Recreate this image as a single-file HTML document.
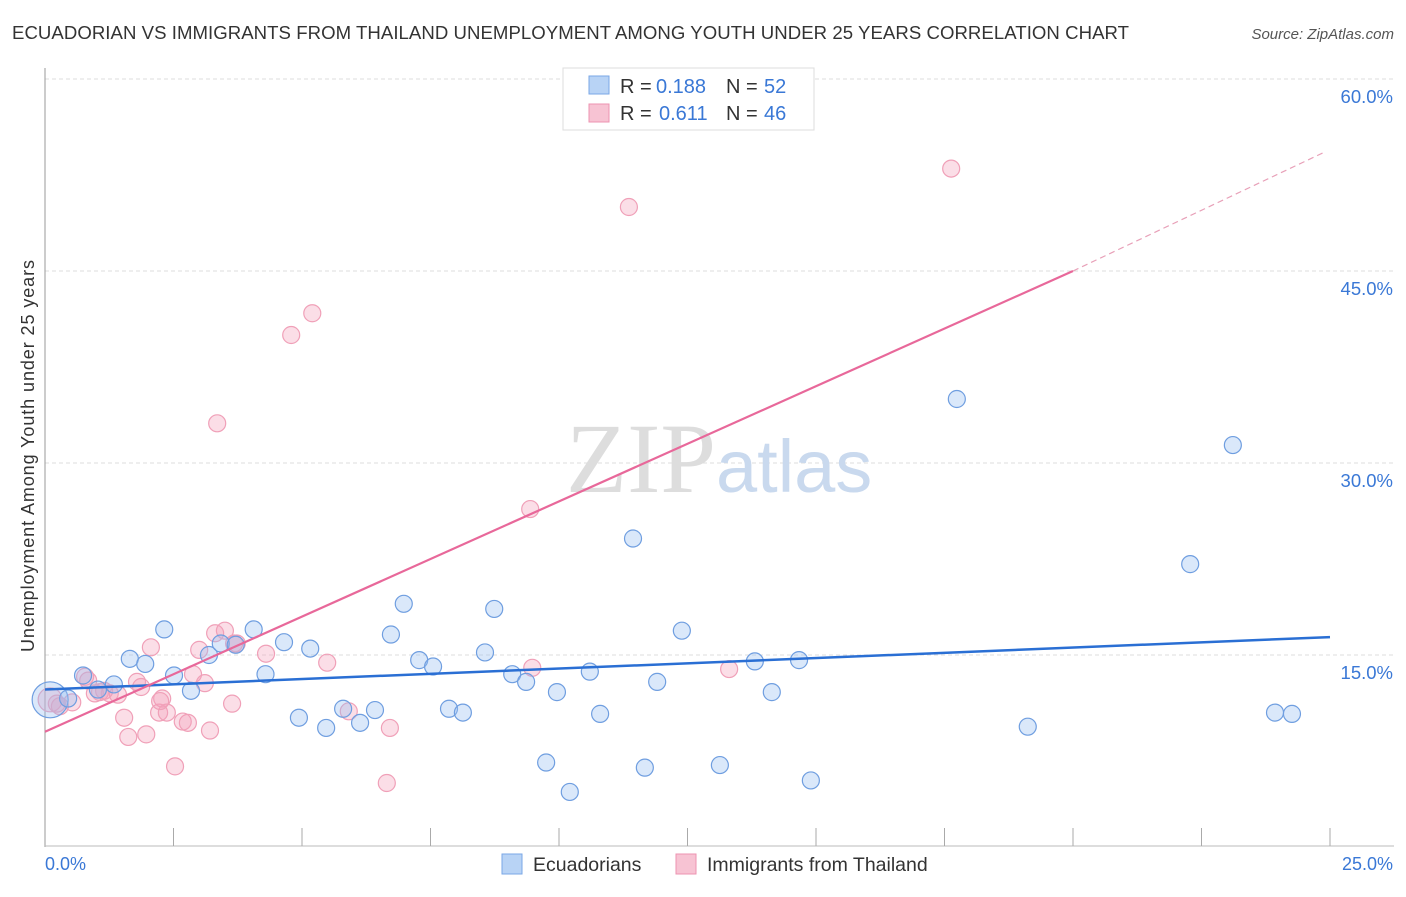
<!DOCTYPE html>
<html><head><meta charset="utf-8"><style>
body{margin:0;background:#fff;font-family:"Liberation Sans",sans-serif}
</style></head><body>
<svg width="1406" height="892" xmlns="http://www.w3.org/2000/svg">
<text x="12" y="39" font-size="18.6" fill="#333" textLength="1117">ECUADORIAN VS IMMIGRANTS FROM THAILAND UNEMPLOYMENT AMONG YOUTH UNDER 25 YEARS CORRELATION CHART</text>
<text x="1394" y="39" font-size="15" fill="#555" font-style="italic" text-anchor="end">Source: ZipAtlas.com</text>
<g id="grid"></g>
<text x="716" y="492" font-size="100" font-family="Liberation Serif,serif" fill="#ddd" text-anchor="end">ZIP</text>
<text x="716" y="492" font-size="74" fill="#c9d9ee">atlas</text>
<line x1="45" y1="68" x2="45" y2="847" stroke="#999"/>
<line x1="45" y1="846" x2="1394" y2="846" stroke="#bbb"/>
<g id="ticks"></g>
<g id="pts"></g>
<g id="lines"></g>
<text x="34" y="456" font-size="18" fill="#333" text-anchor="middle" textLength="392" transform="rotate(-90 34 456)">Unemployment Among Youth under 25 years</text>
<text x="45" y="870" font-size="18" fill="#3a78d6">0.0%</text>
<text x="1393" y="870" font-size="18" fill="#3a78d6" text-anchor="end">25.0%</text>
<g>
<rect x="563" y="68" width="251" height="62" fill="#fff" stroke="#ddd"/>
<rect x="589" y="76" width="20" height="18" fill="#b8d3f5" stroke="#7aa7e6"/>
<rect x="589" y="104" width="20" height="18" fill="#f7c3d3" stroke="#ee93b0"/>
<text x="620" y="93" font-size="20" fill="#333">R =</text><text x="656" y="93" font-size="20" fill="#3a78d6">0.188</text>
<text x="726" y="93" font-size="20" fill="#333">N =</text><text x="764" y="93" font-size="20" fill="#3a78d6">52</text>
<text x="620" y="120" font-size="20" fill="#333">R =</text><text x="659" y="120" font-size="20" fill="#3a78d6">0.611</text>
<text x="726" y="120" font-size="20" fill="#333">N =</text><text x="764" y="120" font-size="20" fill="#3a78d6">46</text>
</g>
<g>
<rect x="502" y="854" width="20" height="20" fill="#b8d3f5" stroke="#7aa7e6"/>
<text x="533" y="871" font-size="19.5" fill="#333">Ecuadorians</text>
<rect x="676" y="854" width="20" height="20" fill="#f7c3d3" stroke="#ee93b0"/>
<text x="707" y="871" font-size="19.5" fill="#333">Immigrants from Thailand</text>
</g>
</svg>
<script>
const yTicks=[15,30,45,60];
const xTicks=[2.5,5,7.5,10,12.5,15,17.5,20,22.5,25];
const blueX=[0.1,0.45,0.74,1.03,1.34,1.65,1.95,2.32,2.51,2.84,3.19,3.42,3.71,4.06,4.29,4.65,4.94,5.16,5.47,5.8,6.13,6.42,6.73,6.98,7.28,7.55,7.86,8.13,8.56,8.74,9.09,9.36,9.75,9.96,10.21,10.6,10.8,11.44,11.67,11.91,12.39,13.13,13.81,14.14,14.67,14.9,17.74,19.12,22.28,23.11,23.93,24.26];
const blueY=[11.5,11.6,13.4,12.3,12.7,14.7,14.3,17.0,13.4,12.2,15.0,15.9,15.8,17.0,13.5,16.0,10.1,15.5,9.3,10.8,9.7,10.7,16.6,19.0,14.6,14.1,10.8,10.5,15.2,18.6,13.5,12.9,6.6,12.1,4.3,13.7,10.4,24.1,6.2,12.9,16.9,6.4,14.5,12.1,14.6,5.2,35.0,9.4,22.1,31.4,10.5,10.4];
const pinkX=[0.1,0.29,0.53,0.78,0.84,1.07,1.26,1.42,1.54,1.62,1.79,1.87,1.97,2.06,2.22,2.28,2.37,2.53,2.68,2.78,2.88,3.0,3.11,3.21,3.35,3.31,3.5,3.64,3.73,4.3,4.79,5.2,5.49,5.91,6.65,6.71,9.44,9.48,11.36,13.31,17.63,0.23,0.97,2.24,1.15,3.68];
const pinkY=[11.5,11.0,11.3,13.3,13.0,12.1,12.0,11.9,10.1,8.6,12.9,12.5,8.8,15.6,10.5,11.6,10.5,6.3,9.8,9.7,13.5,15.4,12.8,9.1,33.1,16.7,16.9,11.2,15.9,15.1,40.0,41.7,14.4,10.6,5.0,9.3,26.4,14.0,50.0,13.9,53.0,11.2,12.0,11.4,12.2,15.9];
const blueLine=[12.3,16.4];
const pinkLine=[9.0,45.0,54.3];
const X=v=>45+v/25*1285, Y=v=>847-v*12.8;
const NS="http://www.w3.org/2000/svg";
function mk(p,t,a){const e=document.createElementNS(NS,t);for(const k in a)e.setAttribute(k,a[k]);document.getElementById(p).appendChild(e);return e;}
yTicks.forEach(t=>{
 const l=mk('grid','line',{x1:45,x2:1394,y1:Y(t),y2:Y(t),stroke:'#ddd','stroke-dasharray':'4,3'});
 
 
 const s=mk('grid','text',{x:1393,y:Y(t)+24,'font-size':18.5,fill:'#3a78d6','text-anchor':'end','font-family':'Liberation Sans,sans-serif'});
 s.textContent=t.toFixed(1)+'%';
 
 
});
xTicks.forEach(t=>{
 const l=mk('ticks','line',{x1:X(t),x2:X(t),y1:828,y2:846,stroke:'#aaa'});
 
 
});
pinkX.forEach((x,i)=>{
 const c=mk('pts','circle',{cx:X(x),cy:Y(pinkY[i]),r:i==0?12:8.5,fill:'rgba(244,160,185,0.35)',stroke:'#f0a0b8','stroke-width':1.2});
 
 
});
blueX.forEach((x,i)=>{
 const c=mk('pts','circle',{cx:X(x),cy:Y(blueY[i]),r:i==0?18:8.5,fill:'rgba(150,190,240,0.35)',stroke:'#6f9ee0','stroke-width':1.2});
 
 
});
const bl=mk('lines','line',{x1:X(0),y1:Y(blueLine[0]),x2:X(25),y2:Y(blueLine[1]),stroke:'#2a6fd4','stroke-width':2.5});


const pl=mk('lines','line',{x1:X(0),y1:Y(pinkLine[0]),x2:X(20),y2:Y(pinkLine[1]),stroke:'#e8689a','stroke-width':2.2});


const pd=mk('lines','line',{x1:X(20),y1:Y(pinkLine[1]),x2:X(24.9),y2:Y(pinkLine[2]),stroke:'#e8a0b8','stroke-width':1.2,'stroke-dasharray':'6,4'});


</script>
</body></html>
